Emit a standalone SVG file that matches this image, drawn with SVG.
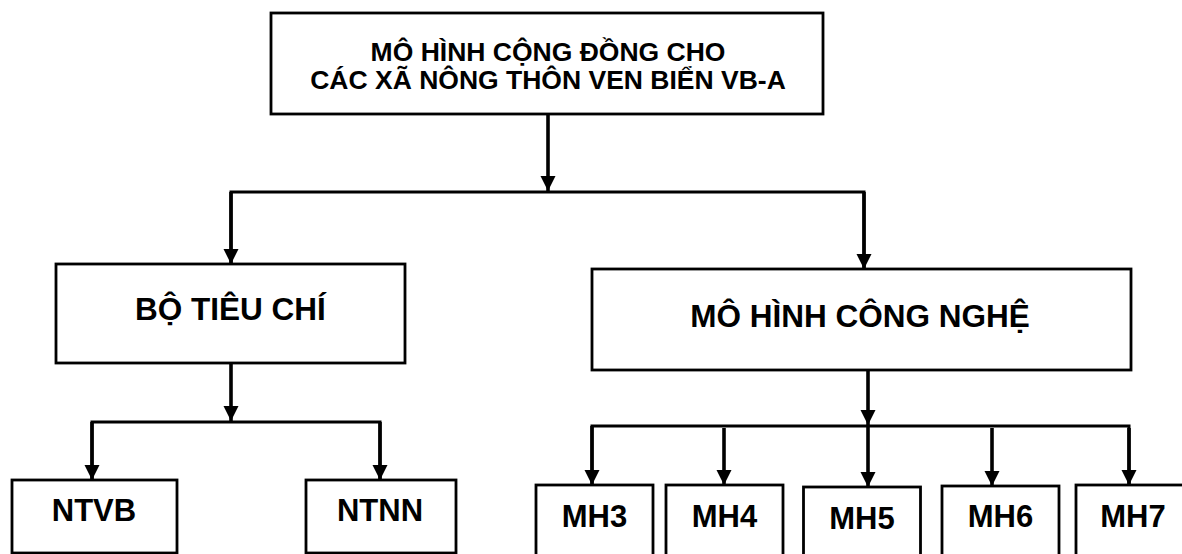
<svg xmlns="http://www.w3.org/2000/svg" width="1182" height="554" viewBox="0 0 1182 554">
  <style>
    .box { fill: #ffffff; stroke: #000000; stroke-width: 2.8; }
    .lbl { font-family: "Liberation Sans", Arial, sans-serif; font-weight: bold; fill: #000000; text-anchor: middle; }
    .bus { fill: none; stroke: #000000; stroke-width: 3; stroke-linejoin: miter; }
    .arr { fill: none; stroke: #000000; stroke-width: 3.6; marker-end: url(#head); }
  </style>
  <defs>
    <marker id="head" markerUnits="userSpaceOnUse" markerWidth="16" markerHeight="16" refX="15" refY="7.5" orient="auto">
      <path d="M0,0 L15,7.5 L0,15 z" fill="#000000"/>
    </marker>
  </defs>
  <rect width="1182" height="554" fill="#ffffff"/>

  <!-- connectors -->
  <g id="connectors">
    <line class="arr" x1="548" y1="114" x2="548" y2="191"/>
    <polyline class="bus" points="231,264 231,192 864,192 864,269"/>
    <line class="arr" x1="231" y1="192" x2="231" y2="264"/>
    <line class="arr" x1="864" y1="192" x2="864" y2="269"/>

    <line class="arr" x1="231" y1="363" x2="231" y2="421"/>
    <polyline class="bus" points="92,479 92,422 380,422 380,479"/>
    <line class="arr" x1="92" y1="422" x2="92" y2="480"/>
    <line class="arr" x1="380" y1="422" x2="380" y2="480"/>

    <line class="arr" x1="868" y1="370" x2="868" y2="425"/>
    <polyline class="bus" points="592,485 592,426 1129,426 1129,485"/>
    <line class="arr" x1="592" y1="426" x2="592" y2="485"/>
    <line class="arr" x1="724" y1="428" x2="724" y2="485"/>
    <line class="arr" x1="868" y1="426" x2="868" y2="487"/>
    <line class="arr" x1="992" y1="428" x2="992" y2="486"/>
    <line class="arr" x1="1129" y1="428" x2="1129" y2="485"/>
  </g>

  <g id="root">
    <rect class="box" x="271" y="13" width="552" height="101"/>
    <text class="lbl" x="548" y="61" font-size="26.5">MÔ HÌNH CỘNG ĐỒNG CHO</text>
    <text class="lbl" x="548" y="89" font-size="26.5">CÁC XÃ NÔNG THÔN VEN BIỂN VB-A</text>
  </g>

  <g id="bo-tieu-chi">
    <rect class="box" x="56" y="264" width="349" height="99"/>
    <text class="lbl" x="230.5" y="320" font-size="31.5">BỘ TIÊU CHÍ</text>
  </g>

  <g id="mo-hinh-cong-nghe">
    <rect class="box" x="592" y="269" width="539" height="101"/>
    <text class="lbl" x="860" y="327" font-size="31.5">MÔ HÌNH CÔNG NGHỆ</text>
  </g>

  <g id="ntvb">
    <rect class="box" x="12" y="480" width="165" height="73"/>
    <text class="lbl" x="94" y="521" font-size="31">NTVB</text>
  </g>

  <g id="ntnn">
    <rect class="box" x="306" y="480" width="150" height="73"/>
    <text class="lbl" x="380" y="521" font-size="31">NTNN</text>
  </g>

  <g id="mh3">
    <rect class="box" x="536" y="485" width="117" height="90"/>
    <text class="lbl" x="594.5" y="527" font-size="31">MH3</text>
  </g>
  <g id="mh4">
    <rect class="box" x="666" y="485" width="117" height="90"/>
    <text class="lbl" x="724.5" y="527" font-size="31">MH4</text>
  </g>
  <g id="mh5">
    <rect class="box" x="803.5" y="487" width="117" height="90"/>
    <text class="lbl" x="862" y="529" font-size="31">MH5</text>
  </g>
  <g id="mh6">
    <rect class="box" x="942" y="486" width="117" height="90"/>
    <text class="lbl" x="1000.5" y="527" font-size="31">MH6</text>
  </g>
  <g id="mh7">
    <rect class="box" x="1076" y="485" width="117" height="90"/>
    <text class="lbl" x="1133" y="527" font-size="31">MH7</text>
  </g>
</svg>
